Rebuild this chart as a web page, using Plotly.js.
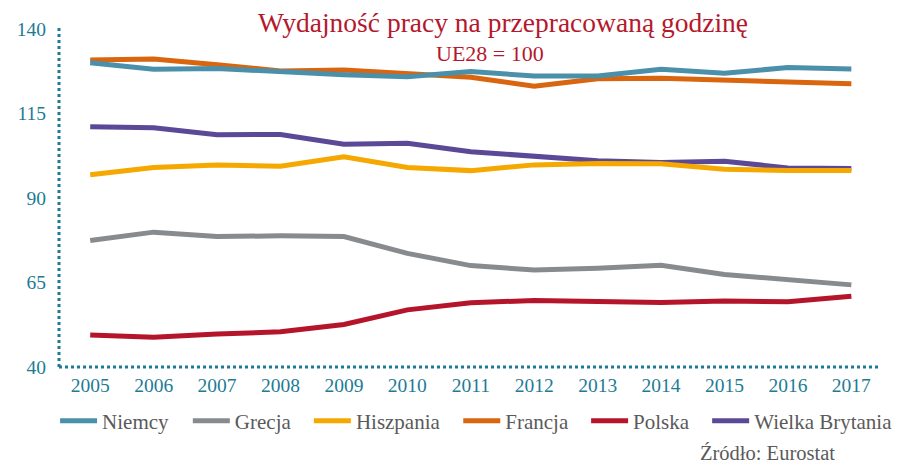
<!DOCTYPE html>
<html>
<head>
<meta charset="utf-8">
<script src="https://cdn.plot.ly/plotly-3.0.1.min.js"></script>
<style>html,body{margin:0;padding:0;background:#fff;}#chart{width:904px;height:466px;}</style>
</head>
<body>
<div id="chart"></div>
<script>
const years = [2005, 2006, 2007, 2008, 2009, 2010, 2011, 2012, 2013, 2014, 2015, 2016, 2017];
const niemcy = [130.0, 128.1, 128.3, 127.3, 126.5, 125.9, 127.4, 126.1, 126.1, 128.1, 126.9, 128.6, 128.2];
const grecja = [77.4, 79.9, 78.6, 78.8, 78.6, 73.6, 70.0, 68.7, 69.2, 70.1, 67.4, 65.9, 64.3];
const hiszpania = [96.9, 99.0, 99.8, 99.4, 102.2, 99.0, 98.1, 99.8, 100.2, 100.1, 98.5, 98.1, 98.1];
const francja = [130.8, 131.1, 129.4, 127.6, 127.9, 126.7, 125.7, 123.1, 125.3, 125.4, 124.8, 124.1, 123.8];
const polska = [49.5, 48.8, 49.8, 50.4, 52.6, 56.9, 59.0, 59.7, 59.4, 59.1, 59.5, 59.3, 60.9];
const wielkaBrytania = [111.1, 110.8, 108.7, 108.8, 105.9, 106.2, 103.7, 102.2, 101.0, 100.5, 100.9, 98.9, 98.7];
const yTicks = [40, 65, 90, 115, 140];
const seriesNames = ["Niemcy", "Grecja", "Hiszpania", "Francja", "Polska", "Wielka Brytania"];
const seriesValues = [niemcy, grecja, hiszpania, francja, polska, wielkaBrytania];

const colors = ["#4a90aa", "#878b8d", "#f5a800", "#d9650e", "#b5152b", "#5b4897"];
const legendX = [-0.0048, 0.1573, 0.3051, 0.4875, 0.6436, 0.7914];
const drawOrder = [1, 4, 5, 2, 3, 0];

const FONT = "'Liberation Serif', 'Times New Roman', serif";
const TEAL = "#1d7b95";

const traces = drawOrder.map(i => ({
  x: years,
  y: seriesValues[i],
  name: seriesNames[i],
  type: "scatter",
  mode: "lines",
  line: {color: colors[i], width: 5},
  legend: i === 0 ? "legend" : "legend" + (i + 1),
  hoverinfo: "x+y+name"
}));

const layout = {
  width: 904,
  height: 466,
  margin: {l: 59, r: 6, t: 29, b: 99},
  paper_bgcolor: "#fff",
  plot_bgcolor: "#fff",
  font: {family: FONT, color: "#5a5a5a"},
  title: {
    text: "Wydajność pracy na przepracowaną godzinę",
    font: {family: FONT, size: 27.5, color: "#b5182d"},
    x: 503 / 904, xanchor: "center",
    xref: "container", yref: "container",
    y: 1 - 22 / 466, yanchor: "middle"
  },
  xaxis: {
    range: [2004.508, 2017.42],
    tickvals: years,
    ticktext: years.map(String),
    showgrid: false, zeroline: false, showline: false,
    ticks: "", ticklabelstandoff: 4,
    tickfont: {family: FONT, size: 19.5, color: TEAL},
    fixedrange: true
  },
  yaxis: {
    range: [40, 140],
    tickvals: yTicks,
    ticktext: yTicks.map(String),
    showgrid: false, zeroline: false, showline: false,
    ticks: "", ticklabelstandoff: 12,
    tickfont: {family: FONT, size: 19.5, color: TEAL},
    fixedrange: true
  },
  shapes: [
    {type: "line", xref: "paper", yref: "paper", x0: 0, x1: 1, y0: 0, y1: 0,
     line: {color: TEAL, width: 3, dash: "dot"}, layer: "below"},
    {type: "line", xref: "paper", yref: "paper", x0: 0, x1: 0, y0: 0, y1: 1.006,
     line: {color: TEAL, width: 3, dash: "dot"}, layer: "below"}
  ],
  annotations: [
    {text: "UE28 = 100", xref: "paper", yref: "paper", x: (501 - 59) / 839, y: (367 - 53) / 338,
     xanchor: "center", yanchor: "middle", showarrow: false,
     font: {family: FONT, size: 22, color: "#b5182d"}},
    {text: "Źródło: Eurostat", xref: "paper", yref: "paper", x: (856 - 59) / 839, y: (367 - 466) / 338,
     xanchor: "right", yanchor: "bottom", showarrow: false,
     font: {family: FONT, size: 20.5, color: "#5a5a5a"}}
  ],
  showlegend: true
};

seriesNames.forEach((n, i) => {
  const key = i === 0 ? "legend" : "legend" + (i + 1);
  layout[key] = {
    x: legendX[i], xanchor: "left",
    y: -0.1598, yanchor: "middle",
    orientation: "h",
    itemwidth: 37,
    bgcolor: "rgba(0,0,0,0)",
    font: {family: FONT, size: 21, color: "#5a5a5a"}
  };
});

Plotly.newPlot("chart", traces, layout, {displayModeBar: false, staticPlot: true});
</script>
</body>
</html>
